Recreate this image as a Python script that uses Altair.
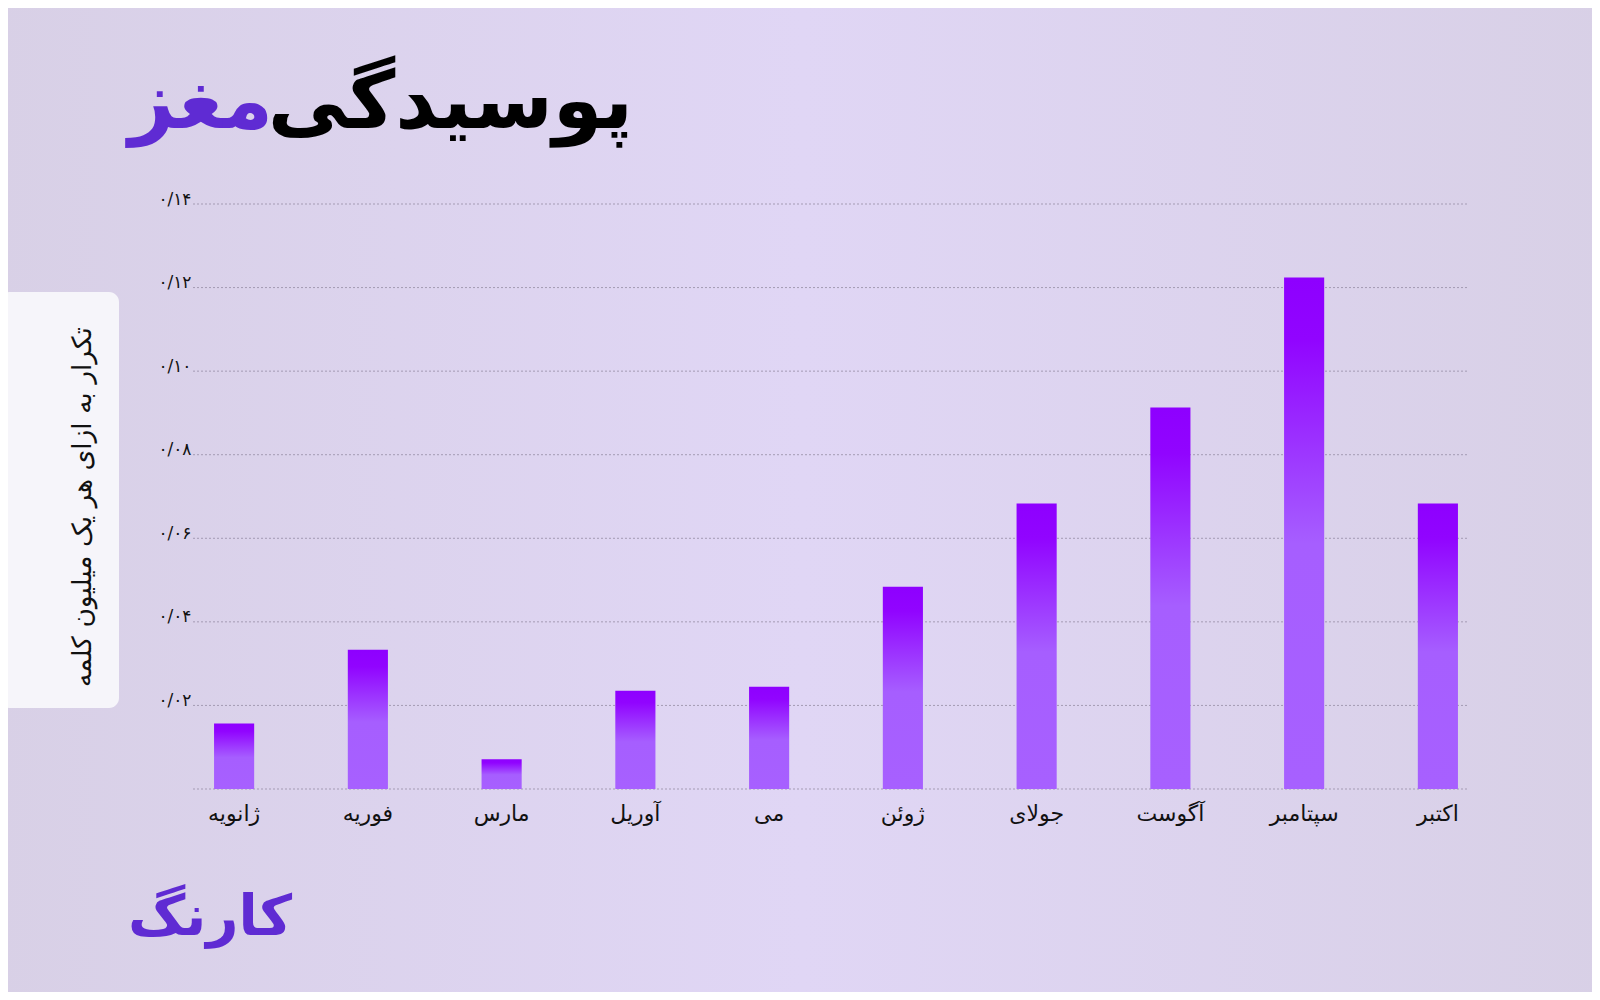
import altair as alt
import pandas as pd

# ---- data ----
months = ["ژانویه", "فوریه", "مارس", "آوریل", "می", "ژوئن", "جولای", "آگوست", "سپتامبر", "اکتبر"]
values = [0.0157, 0.0333, 0.0071, 0.0235, 0.0245, 0.0484, 0.0683, 0.0913, 0.1224, 0.0683]
y_ticks = [0, 0.02, 0.04, 0.06, 0.08, 0.10, 0.12, 0.14]
y_tick_labels = ["", "۰/۰۲", "۰/۰۴", "۰/۰۶", "۰/۰۸", "۰/۱۰", "۰/۱۲", "۰/۱۴"]
title_main = "پوسیدگی"
title_accent = "مغز"
y_title = "تکرار به ازای هر یک میلیون کلمه"
logo_text = "کارنگ"

W, H = 1276, 585
FONT = "DejaVu Sans"

df = pd.DataFrame({"month": months, "value": values})
ticks_df = pd.DataFrame({"tick": y_ticks})

# label expression from the tick lists
expr = "''"
for v, lab in zip(y_ticks, y_tick_labels):
    expr = f"abs(datum.value - {v}) < 0.000001 ? '{lab}' : ({expr})"

y_scale = alt.Scale(domain=[0, 0.14], nice=False)
y_axis = alt.Axis(title=None, values=y_ticks, labelExpr=expr, labelFont=FONT,
                  labelFontSize=17, labelColor="#111111", labelBaseline="alphabetic",
                  labelPadding=2, ticks=False, domain=False, grid=False, zindex=1)

one = pd.DataFrame({"k": [0]})

bg = alt.Chart(one).mark_rect(
    fill=alt.Gradient(
        gradient="linear",
        stops=[
            alt.GradientStop(color="#D8D0E6", offset=0),
            alt.GradientStop(color="#E0D6F5", offset=0.5),
            alt.GradientStop(color="#D8D0E6", offset=1),
        ],
        x1=0, x2=1, y1=0, y2=0,
    )
).encode(x=alt.value(-200), x2=alt.value(1420), y=alt.value(-210), y2=alt.value(800))

box = alt.Chart(one).mark_rect(fill="#F6F5FA", cornerRadius=10).encode(
    x=alt.value(-193), x2=alt.value(-74), y=alt.value(88), y2=alt.value(504)
)

ytitle = alt.Chart(pd.DataFrame({"t": [y_title]})).mark_text(
    font=FONT, fontSize=26.5, angle=270, align="center", baseline="middle", color="#111111"
).encode(x=alt.value(-110), y=alt.value(303), text="t:N")

grid = alt.Chart(ticks_df).mark_rule(
    color="#A49BB3", strokeDash=[2, 2], strokeWidth=1
).encode(
    y=alt.Y("tick:Q", scale=y_scale, axis=y_axis),
    x=alt.value(0), x2=alt.value(W),
)

bars = alt.Chart(df).mark_bar(
    fill=alt.Gradient(
        gradient="linear",
        stops=[
            alt.GradientStop(color="#8E00FF", offset=0),
            alt.GradientStop(color="#9104FF", offset=0.12),
            alt.GradientStop(color="#A65EFF", offset=0.52),
            alt.GradientStop(color="#A760FF", offset=1),
        ],
        x1=0, x2=0, y1=0, y2=1,
    )
).encode(
    x=alt.X("month:N", sort=months,
            scale=alt.Scale(paddingInner=0.7, paddingOuter=0.12, range=[5, 1281]),
            axis=alt.Axis(title=None, labelAngle=0, labelFont=FONT, labelFontSize=22,
                          labelColor="#111111", labelPadding=14, ticks=False, domain=False,
                          grid=False, zindex=1)),
    y=alt.Y("value:Q", scale=y_scale, axis=y_axis),
)

t_main = alt.Chart(pd.DataFrame({"t": [title_main]})).mark_text(
    font=FONT, fontSize=80, fontWeight="bold", align="right", baseline="alphabetic", color="#000000"
).encode(x=alt.value(440), y=alt.value(-76), text="t:N")

t_acc = alt.Chart(pd.DataFrame({"t": [title_accent]})).mark_text(
    font=FONT, fontSize=80, fontWeight="bold", align="right", baseline="alphabetic", color="#5F2BD3"
).encode(x=alt.value(80), y=alt.value(-76), text="t:N")

logo = alt.Chart(pd.DataFrame({"t": [logo_text]})).mark_text(
    font=FONT, fontSize=56, fontWeight="bold", align="center", baseline="middle", color="#5F2BD3"
).encode(x=alt.value(17), y=alt.value(714), text="t:N")

chart = alt.layer(bg, box, ytitle, grid, bars, t_main, t_acc, logo).properties(
    width=W, height=H,
    autosize="none",
    padding={"left": 185, "top": 196, "right": 123, "bottom": 203},
    background="#DCD3EC",
).configure_view(stroke=None)

chart.save("out.html", embed_options={"renderer": "svg", "actions": False})
